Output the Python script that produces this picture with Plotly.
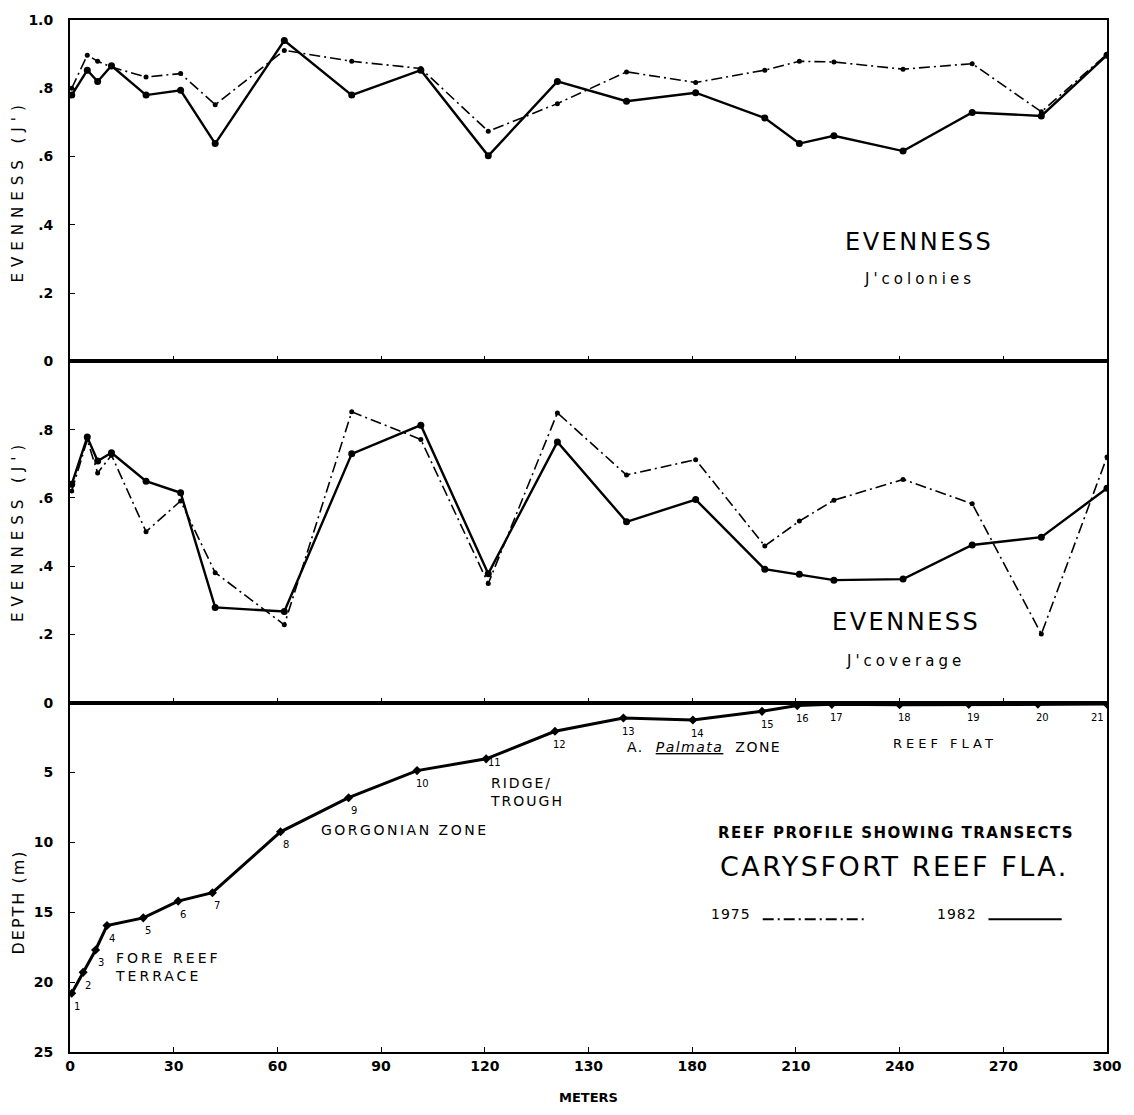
import plotly.graph_objects as go
from plotly.subplots import make_subplots

# ---- data ----
transect_m = [0.5, 5, 8, 12, 22, 32, 42, 62, 81.5, 101.5, 121, 141, 161, 181, 201, 211, 221, 241, 261, 281, 300]
colonies_1975 = [0.80, 0.897, 0.879, 0.862, 0.833, 0.843, 0.752, 0.911, 0.879, 0.858, 0.674, 0.755, 0.848, 0.817,
                 0.853, 0.879, 0.877, 0.856, 0.872, 0.731, 0.90]
colonies_1982 = [0.78, 0.853, 0.82, 0.866, 0.78, 0.794, 0.638, 0.94, 0.78, 0.853, 0.602, 0.82, 0.762, 0.787,
                 0.713, 0.638, 0.661, 0.616, 0.729, 0.719, 0.897]
coverage_1975 = [0.62, 0.77, 0.673, 0.725, 0.501, 0.591, 0.381, 0.228, 0.852, 0.771, 0.349, 0.849, 0.667, 0.712,
                 0.459, 0.532, 0.593, 0.654, 0.583, 0.201, 0.72]
coverage_1982 = [0.64, 0.778, 0.708, 0.732, 0.649, 0.615, 0.279, 0.267, 0.729, 0.813, 0.378, 0.764, 0.530, 0.595,
                 0.391, 0.376, 0.359, 0.362, 0.462, 0.485, 0.628]
profile_m = [0.5, 3.8, 7.4, 10.7, 21.2, 31.3, 41.2, 60.9, 80.6, 100.4, 120.4, 140.3, 160.1, 180.2, 200.2, 210.4,
             220.4, 240, 260, 280, 300]
depth_m = [20.8, 19.3, 17.7, 15.95, 15.4, 14.2, 13.6, 9.24, 6.8, 4.86, 4.02, 2.05, 1.1, 1.24, 0.62, 0.21,
           0.12, 0.15, 0.12, 0.1, 0.1]
transect_labels = [str(i) for i in range(1, 22)]
x_tickvals = [0, 30, 60, 90, 120, 150, 180, 210, 240, 270, 300]
x_ticktext = ["0", "30", "60", "90", "120", "130", "180", "210", "240", "270", "300"]
ev_tickvals = [0, 0.2, 0.4, 0.6, 0.8, 1.0]
ev_ticktext = ["0", ".2", ".4", ".6", ".8", "1.0"]
cov_tickvals = [0.2, 0.4, 0.6, 0.8]
cov_ticktext = [".2", ".4", ".6", ".8"]
depth_tickvals = [0, 5, 10, 15, 20, 25]

FONT = "DejaVu Sans"
DASH = "11px,4px,2px,4px"


def spaced(text, px):
    return f"<span style='letter-spacing:{px}px'>{text}</span>"


fig = make_subplots(rows=3, cols=1, shared_xaxes=True, vertical_spacing=0,
                    row_heights=[342, 342, 350])


def add_pair(y75, y82, row):
    fig.add_trace(go.Scatter(x=transect_m, y=y75, mode="lines+markers", name="1975",
                             line=dict(color="black", width=1.6, dash=DASH),
                             marker=dict(color="black", size=5), showlegend=False), row=row, col=1)
    fig.add_trace(go.Scatter(x=transect_m, y=y82, mode="lines+markers", name="1982",
                             line=dict(color="black", width=2.4),
                             marker=dict(color="black", size=7), showlegend=False), row=row, col=1)


add_pair(colonies_1975, colonies_1982, 1)
add_pair(coverage_1975, coverage_1982, 2)
fig.add_trace(go.Scatter(x=profile_m, y=depth_m, mode="lines+markers", name="profile",
                         line=dict(color="black", width=3),
                         marker=dict(color="black", size=7, symbol="diamond"), showlegend=False), row=3, col=1)

axis_common = dict(showline=True, linecolor="black", linewidth=2, mirror=True, ticks="inside",
                   ticklen=5, tickcolor="black", showgrid=False, zeroline=False,
                   tickfont=dict(family=FONT, size=14, color="black", weight="bold"))

for r in (1, 2, 3):
    fig.update_xaxes(range=[0, 300], tickvals=x_tickvals, ticktext=x_ticktext, row=r, col=1, **axis_common)
fig.update_xaxes(showticklabels=True, row=3, col=1,
                 title=dict(text="<b>METERS</b>", font=dict(family=FONT, size=13, color="black"), standoff=20))

fig.update_yaxes(range=[0, 1.0], tickvals=ev_tickvals, ticktext=ev_ticktext, row=1, col=1,
                 ticklabelstandoff=12, **axis_common)
fig.update_yaxes(range=[0, 1.0], tickvals=cov_tickvals, ticktext=cov_ticktext, row=2, col=1,
                 ticklabelstandoff=12, **axis_common)
fig.update_yaxes(range=[25, 0], tickvals=depth_tickvals, row=3, col=1,
                 ticklabelstandoff=12, **axis_common)

ann = []


def paper_text(text, x, y, size, angle=0, xanchor="center"):
    ann.append(dict(text=text, x=x, y=y, xref="paper", yref="paper", showarrow=False, textangle=angle,
                    xanchor=xanchor, yanchor="middle", font=dict(family=FONT, size=size, color="black")))


paper_text(spaced("EVENNESS (J')", 6), -0.05, 0.834, 15, -90)
paper_text(spaced("EVENNESS (J')", 6), -0.05, 0.505, 15, -90)
paper_text(spaced("DEPTH (m)", 2), -0.05, 0.145, 16, -90)
paper_text(spaced("EVENNESS", 2.5), 0.819, 0.785, 24)
paper_text(spaced("J'colonies", 4), 0.819, 0.749, 15)
paper_text(spaced("EVENNESS", 2.5), 0.806, 0.417, 24)
paper_text(spaced("J'coverage", 4), 0.806, 0.379, 15)


def data_text(text, x, y, size, xanchor="center", align="center", bold=False):
    ann.append(dict(text=(f"<b>{text}</b>" if bold else text), x=x, y=y, xref="x3", yref="y3",
                    showarrow=False, xanchor=xanchor, yanchor="middle", align=align,
                    font=dict(family=FONT, size=size, color="black")))


data_text(spaced("FORE REEF<br>TERRACE", 3), 12.3, 18.9, 14, xanchor="left", align="left")
data_text(spaced("GORGONIAN ZONE", 2.5), 96.8, 9.1, 14)
data_text(spaced("RIDGE/<br>TROUGH", 2), 121, 6.4, 14, xanchor="left", align="left")
data_text(spaced("A.  <i><u>Palmata</u></i>  ZONE", 1.5), 183.5, 3.2, 14)
data_text(spaced("REEF FLAT", 4), 253, 2.9, 13)
data_text(spaced("REEF PROFILE SHOWING TRANSECTS", 1.5), 239, 9.3, 15, bold=True)
data_text(spaced("CARYSFORT REEF FLA.", 2.5), 238.5, 11.7, 27)
data_text(spaced("1975", 1), 197.5, 15.1, 14, xanchor="right")
data_text(spaced("1982", 1), 263, 15.1, 14, xanchor="right")

for lab, xm, d in zip(transect_labels, profile_m, depth_m):
    if lab == "11":
        xs, ys = 8, -4
    elif xm > 295:
        xs, ys = -10, -13
    else:
        xs, ys = 5, -13
    ann.append(dict(text=lab, x=xm, y=d, xref="x3", yref="y3", showarrow=False,
                    xshift=xs, yshift=ys, font=dict(family=FONT, size=10, color="black")))

shapes = [
    dict(type="line", xref="x3", yref="y3", x0=200.4, x1=229.6, y0=15.5, y1=15.5,
         line=dict(color="black", width=1.8, dash=DASH)),
    dict(type="line", xref="x3", yref="y3", x0=265.7, x1=286.9, y0=15.5, y1=15.5,
         line=dict(color="black", width=1.8)),
]

fig.update_layout(width=1134, height=1115, margin=dict(l=70, r=16, t=18, b=63),
                  paper_bgcolor="white", plot_bgcolor="white", annotations=ann, shapes=shapes,
                  font=dict(family=FONT, color="black"))

fig.write_html("out.html")
